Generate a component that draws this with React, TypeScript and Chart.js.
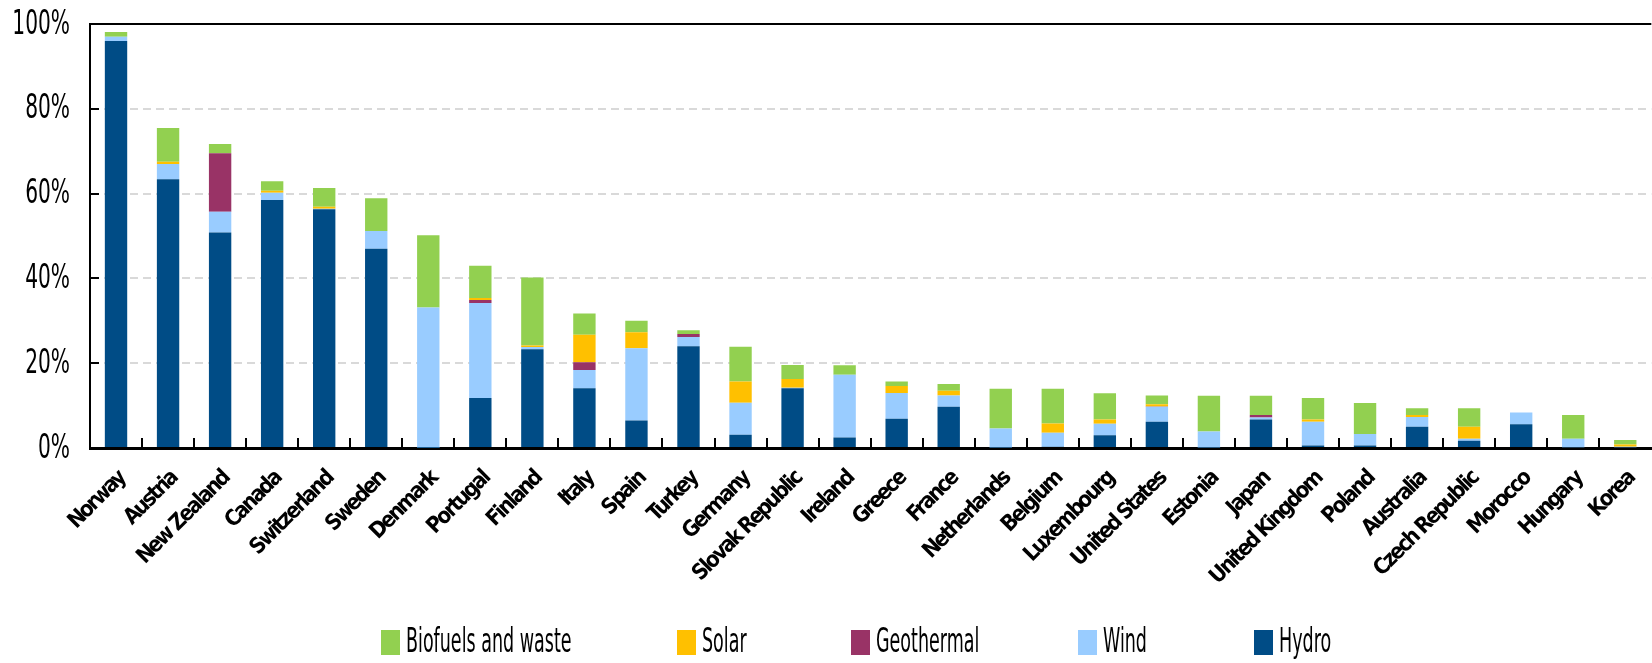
import React, { useEffect, useRef } from "react";
import { Chart, registerables } from "chart.js";

Chart.register(...registerables);

const categories = [
  "Norway", "Austria", "New Zealand", "Canada", "Switzerland", "Sweden", "Denmark",
  "Portugal", "Finland", "Italy", "Spain", "Turkey", "Germany", "Slovak Republic",
  "Ireland", "Greece", "France", "Netherlands", "Belgium", "Luxembourg",
  "United States", "Estonia", "Japan", "United Kingdom", "Poland", "Australia",
  "Czech Republic", "Morocco", "Hungary", "Korea",
];

const hydro = [96.0, 63.4, 50.8, 58.5, 56.3, 47.0, 0.05, 11.8, 23.3, 14.1, 6.5, 24.0, 3.1, 14.1, 2.5, 6.9, 9.7, 0.1, 0.3, 3.0, 6.2, 0.1, 6.7, 0.6, 0.6, 5.0, 1.7, 5.6, 0.2, 0.2];
const wind = [1.0, 3.6, 4.9, 1.7, 0.1, 4.2, 33.1, 22.4, 0.5, 4.3, 17.0, 2.2, 7.6, 0.1, 14.8, 6.1, 2.7, 4.5, 3.3, 2.7, 3.5, 3.8, 0.5, 5.6, 2.7, 2.3, 0.5, 2.8, 2.0, 0.1];
const geothermal = [0, 0, 13.8, 0, 0, 0, 0, 0.7, 0, 1.8, 0, 0.7, 0, 0, 0, 0, 0, 0, 0, 0, 0.1, 0, 0.6, 0, 0, 0, 0, 0, 0, 0];
const solar = [0, 0.5, 0, 0.5, 0.5, 0, 0, 0.5, 0.4, 6.5, 3.8, 0, 5.0, 2.1, 0, 1.6, 1.1, 0, 2.2, 1.0, 0.5, 0, 0, 0.5, 0, 0.5, 2.8, 0, 0, 0.5];
const biofuels = [1.1, 8.0, 2.2, 2.2, 4.4, 7.7, 17.0, 7.6, 16.0, 5.0, 2.7, 0.9, 8.2, 3.3, 2.2, 1.1, 1.6, 9.4, 8.2, 6.2, 2.1, 8.4, 4.5, 5.1, 7.3, 1.6, 4.4, 0, 5.6, 1.1];

const yTickValues = [0, 20, 40, 60, 80, 100];
const seriesNames = ["Hydro", "Wind", "Geothermal", "Solar", "Biofuels and waste"];
const legendNames = ["Biofuels and waste", "Solar", "Geothermal", "Wind", "Hydro"];

const COLORS: Record<string, string> = {
  Hydro: "#004C86",
  Wind: "#99CCFF",
  Geothermal: "#993366",
  Solar: "#FFC000",
  "Biofuels and waste": "#92D050",
};

const COND = '"DejaVu Sans Condensed", "Liberation Sans Narrow", sans-serif';
const LEGEND_BOX_X = [381, 677, 851, 1078, 1254];

function drawSquashed(ctx: CanvasRenderingContext2D, text: string, x: number, y: number, sx: number) {
  ctx.save();
  ctx.translate(x, y);
  ctx.scale(sx, 1);
  ctx.fillText(text, 0, 0);
  ctx.restore();
}

const decorPlugin = {
  id: "decor",
  beforeDraw(chart: any) {
    (chart.ctx as any).letterSpacing = "-2.2px";
  },
  beforeDatasetsDraw(chart: any) {
    (chart.ctx as any).letterSpacing = "0px";
  },
  afterDraw(chart: any) {
    const { ctx, chartArea: a, scales } = chart;
    const x = scales.x;
    const y = scales.y;
    ctx.save();
    (ctx as any).letterSpacing = "0px";
    ctx.strokeStyle = "#000";
    ctx.lineWidth = 2;
    yTickValues.forEach((v) => {
      if (v > 0 && v < 100) {
        const py = Math.round(y.getPixelForValue(v));
        ctx.beginPath();
        ctx.moveTo(a.left, py);
        ctx.lineTo(a.left + 9, py);
        ctx.stroke();
      }
    });
    const pTop = y.getPixelForValue(100);
    ctx.beginPath();
    ctx.moveTo(a.left - 1, pTop);
    ctx.lineTo(a.right, pTop);
    ctx.stroke();
    const step = x.getPixelForValue(1) - x.getPixelForValue(0);
    for (let i = 1; i < categories.length; i++) {
      const px = Math.round(x.getPixelForValue(i) - step / 2);
      ctx.beginPath();
      ctx.moveTo(px, a.bottom);
      ctx.lineTo(px, a.bottom - 10);
      ctx.stroke();
    }
    ctx.fillStyle = "#000";
    ctx.font = `33px ${COND}`;
    ctx.textAlign = "right";
    ctx.textBaseline = "middle";
    yTickValues.forEach((v) => {
      drawSquashed(ctx, `${v}%`, a.left - 20, y.getPixelForValue(v) + 1, 0.68);
    });
    ctx.font = `33px ${COND}`;
    ctx.textAlign = "left";
    legendNames.forEach((name, i) => {
      const bx = LEGEND_BOX_X[i];
      ctx.fillStyle = COLORS[name];
      ctx.fillRect(bx, 630, 19, 25);
      ctx.fillStyle = "#000";
      drawSquashed(ctx, name, bx + 25, 643, 0.59);
    });
    ctx.restore();
  },
};

export default function App() {
  const ref = useRef<HTMLCanvasElement | null>(null);
  useEffect(() => {
    document.body.style.margin = "0";
    const seriesData = [hydro, wind, geothermal, solar, biofuels];
    const chart = new Chart(ref.current as HTMLCanvasElement, {
      type: "bar",
      data: {
        labels: categories,
        datasets: seriesNames.map((name, i) => ({
          label: name,
          data: seriesData[i],
          backgroundColor: COLORS[name],
          borderWidth: 0,
          barPercentage: 0.43,
          categoryPercentage: 1,
        })),
      },
      options: {
        animation: false,
        responsive: false,
        devicePixelRatio: 1,
        layout: { padding: { left: 90, right: 4, top: 24, bottom: 0 } },
        plugins: { legend: { display: false }, tooltip: { enabled: false } },
        scales: {
          x: {
            stacked: true,
            offset: true,
            grid: { display: false, drawTicks: false },
            border: { display: true, color: "#000", width: 3 },
            ticks: {
              autoSkip: false,
              maxRotation: 45,
              minRotation: 45,
              padding: 18,
              labelOffset: 6,
              color: "#000",
              font: { family: COND, size: 22, weight: "bold" },
            },
            afterFit: (s: any) => {
              s.height = 215;
            },
          },
          y: {
            stacked: true,
            min: 0,
            max: 100,
            ticks: { display: false, stepSize: 20 },
            grid: { color: "#d9d9d9", lineWidth: 2, drawTicks: false },
            border: { display: true, color: "#000", width: 2, dash: [8, 5] },
          },
        },
      },
      plugins: [decorPlugin],
    });
    return () => chart.destroy();
  }, []);
  return (
    <div style={{ width: 1652, height: 663, overflow: "hidden", position: "relative" }}>
      <canvas ref={ref} width={1662} height={663} style={{ width: 1662, height: 663, display: "block" }} />
    </div>
  );
}
